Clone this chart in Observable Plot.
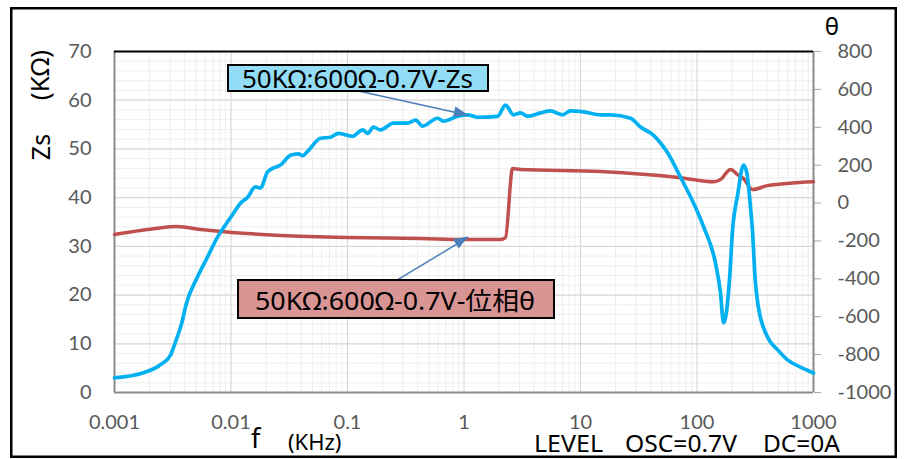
<!DOCTYPE html>
<html><head><meta charset="utf-8">
<script src="https://cdn.jsdelivr.net/npm/d3@7"></script>
<script src="https://cdn.jsdelivr.net/npm/@observablehq/plot@0.6"></script>
<style>
body{margin:0;background:#fff;}
#wrap{position:relative;width:908px;height:459px;}
</style></head>
<body><div id="wrap"></div>
<script>
// ---- data ----
const zsFreq = [0.001,0.00177,0.00248,0.00303,0.00327,0.00384,0.00407,0.00515,0.00628,0.00766,0.00862,0.0105,0.0121,0.0139,0.0162,0.0179,0.0206,0.0232,0.0266,0.0324,0.038,0.0411,0.0454,0.0586,0.0714,0.0837,0.110,0.135,0.149,0.167,0.192,0.248,0.327,0.384,0.441,0.593,0.667,0.880,1.07,1.31,1.94,2.27,2.66,3.05,3.51,4.54,5.52,7.00,8.20,10.6,14.9,18.1,26.9,32.7,42.4,55.9,72.2,93.3,114,144,159,169,179,190,202,223,251,268,288,299,316,336,403,491,598,773,1000];
const zsValues = [3.0,4.05,5.7,7.7,9.8,14.9,17.6,23.7,27.8,31.9,33.8,36.8,38.9,40.1,42.2,42.0,45.3,46.1,46.7,48.7,49.0,48.6,49.5,52.2,52.4,53.2,52.6,53.9,53.2,54.5,53.9,55.3,55.3,55.9,54.7,56.3,55.7,56.7,57.0,56.5,56.7,59.0,57.0,57.4,56.7,57.4,57.8,57.0,57.8,57.6,57.0,57.0,56.3,54.5,52.8,49.2,44.2,38.9,34.0,26.6,20.5,14.3,16.5,23.1,33.4,40.5,46.7,45.0,38.0,33.4,23.1,17.6,11.4,8.8,6.7,5.2,4.0];
const phaseFreq = [0.001,0.00146,0.00225,0.00347,0.00547,0.0101,0.0266,0.1,0.424,1.0,2.06,2.27,2.61,3.05,14.9,72.2,139,159,194,223,251,299,403,1000];
const phaseValues = [-166,-150,-134,-124,-140,-155,-171,-182,-187,-192,-192,-182,182,177,166,134,113,124,177,150,129,71,92,113];
const xTicks = [0.001,0.01,0.1,1,10,100,1000];
const zsTicks = [0,10,20,30,40,50,60,70];
const phaseTicks = [-1000,-800,-600,-400,-200,0,200,400,600,800];
const zsLabel = "Zs";
const zsUnit = "(KΩ)";
const phaseLabel = "θ";
const fLabel = "f";
const fUnit = "(KHz)";
const conditionLabels = ["LEVEL","OSC=0.7V","DC=0A"];
const seriesNames = ["50KΩ:600Ω-0.7V-Zs","50KΩ:600Ω-0.7V-位相θ"];
// annotation arrows (data coordinates: f, Zs)
const arrowFrom = [[0.124,61.9],[0.268,23.1]];
const arrowTo = [[1.09,56.9],[1.09,31.9]];

// ---- helpers ----
const phaseMin = -1000, phaseMax = 800, zsMax = 70;
const phaseToZ = t => (t - phaseMin) * zsMax / (phaseMax - phaseMin);
const zToPhase = z => String(Math.round(z * (phaseMax - phaseMin) / zsMax + phaseMin));

const minorX = [];
for (let e = -3; e < 3; e++) for (let k = 2; k <= 9; k++) minorX.push(k * 10 ** e);
const minorY = d3.range(0, 71, 2);

const zsData = zsFreq.map((f, i) => ({f, z: zsValues[i]}));
const phData = phaseFreq.map((f, i) => ({f, z: phaseToZ(phaseValues[i])}));
const arrows = arrowFrom.map((a, i) => ({x1: a[0], y1: a[1], x2: arrowTo[i][0], y2: arrowTo[i][1]}));

const chart = Plot.plot({
  width: 908, height: 459,
  marginLeft: 114, marginRight: 95, marginTop: 51, marginBottom: 67,
  style: {fontFamily: "Lato, sans-serif", fontSize: "20px", color: "#595959", background: "transparent", overflow: "visible"},
  x: {type: "log", domain: [0.001, 1000]},
  y: {domain: [0, 70]},
  marks: [
    Plot.ruleX(minorX, {stroke: "#eeeeee", strokeWidth: 1}),
    Plot.ruleY(minorY, {stroke: "#eeeeee", strokeWidth: 1}),
    Plot.ruleX(xTicks, {stroke: "#d9d9d9", strokeWidth: 1.2}),
    Plot.ruleY(zsTicks, {stroke: "#d9d9d9", strokeWidth: 1.2}),
    Plot.axisX({ticks: xTicks, tickSize: 0, tickPadding: 22, tickFormat: d => String(d), label: null}),
    Plot.axisY({ticks: zsTicks, tickSize: 0, tickPadding: 23, label: null}),
    Plot.axisY({anchor: "right", ticks: phaseTicks.map(phaseToZ), tickFormat: zToPhase, tickSize: 7, tickPadding: 17, stroke: "#a6a6a6", label: null}),
    Plot.ruleX([0.001, 1000], {stroke: "#8c8c8c", strokeWidth: 2}),
    Plot.ruleY([0], {stroke: "#8c8c8c", strokeWidth: 2}),
    Plot.ruleY([70], {stroke: "#000", strokeWidth: 2.2}),
    Plot.line(phData, {x: "f", y: "z", stroke: "#c0504d", strokeWidth: 3.5, curve: "monotone-x"}),
    Plot.line(zsData, {x: "f", y: "z", stroke: "#00b0f0", strokeWidth: 3.7, curve: "monotone-x"}),
    Plot.link(arrows, {x1: "x1", y1: "y1", x2: "x2", y2: "y2", stroke: "#4a7ebb", strokeWidth: 1.5})
  ]
});
document.getElementById("wrap").appendChild(chart);

// ---- overlay text / boxes in the same svg ----
const svg = d3.select(chart);
const sx = chart.scale("x"), sy = chart.scale("y");
// filled arrow heads computed through the chart's scales
arrows.forEach(a => {
  const x1 = sx.apply(a.x1), y1 = sy.apply(a.y1), x2 = sx.apply(a.x2), y2 = sy.apply(a.y2);
  const L = Math.hypot(x2 - x1, y2 - y1), ux = (x2 - x1) / L, uy = (y2 - y1) / L;
  const hl = 14, hw = 5.5;
  const bx = x2 - ux * hl, by = y2 - uy * hl;
  svg.append("path")
    .attr("d", `M${x2},${y2}L${bx - uy * hw},${by + ux * hw}L${bx + uy * hw},${by - ux * hw}Z`)
    .attr("fill", "#4a7ebb");
});

svg.append("rect").attr("x", 11.25).attr("y", 8.25).attr("width", 884.5).attr("height", 448.5)
  .attr("fill", "none").attr("stroke", "#000").attr("stroke-width", 2.5);

const sans = "'Noto Sans', 'Noto Sans CJK JP', sans-serif";
function label(txt, x, y, size, opts = {}) {
  const t = svg.append("text").attr("x", x).attr("y", y).text(txt)
    .attr("fill", "#000").style("font-size", size + "px").style("font-family", opts.family || sans)
    .attr("text-anchor", opts.anchor || "start");
  if (opts.rotate) t.attr("transform", `rotate(-90 ${x} ${y})`);
  if (opts.len) t.attr("textLength", opts.len).attr("lengthAdjust", "spacingAndGlyphs");
  return t;
}
label(zsLabel, 50, 147, 25, {anchor: "middle", rotate: true});
label(zsUnit, 49, 75, 26, {anchor: "middle", rotate: true});
label(phaseLabel, 832, 35, 24, {anchor: "middle"});
label(fLabel, 251, 448, 27);
label(fUnit, 288, 450, 22);
label(conditionLabels[0], 534, 452, 23, {len: 69});
label(conditionLabels[1], 625, 452, 23, {len: 112});
label(conditionLabels[2], 763, 452, 23, {len: 77});

svg.append("rect").attr("x", 228).attr("y", 65).attr("width", 260).attr("height", 26)
  .attr("fill", "#93dcf5").attr("stroke", "#000").attr("stroke-width", 2);
label(seriesNames[0], 242, 88, 25, {len: 231});
svg.append("rect").attr("x", 238).attr("y", 280).attr("width", 316).attr("height", 38)
  .attr("fill", "#d99594").attr("stroke", "#000").attr("stroke-width", 2);
label(seriesNames[1], 255, 310, 25, {len: 280});
</script>
</body></html>
